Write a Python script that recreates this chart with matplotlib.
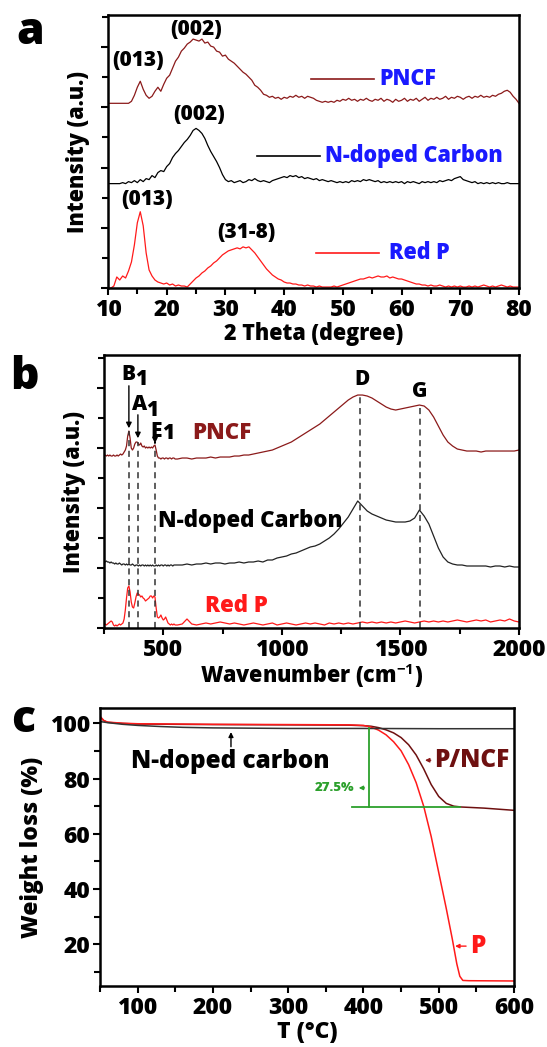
import numpy as np
import matplotlib
matplotlib.use("Agg")
import matplotlib.pyplot as plt
from matplotlib.ticker import MultipleLocator

plt.rcParams['font.family'] = ['Open Sans', 'DejaVu Sans']
plt.rcParams['font.weight'] = 800
plt.rcParams['axes.labelweight'] = 800
plt.rcParams['mathtext.fontset'] = 'custom'
plt.rcParams['mathtext.rm'] = 'Open Sans:bold'
plt.rcParams['mathtext.bf'] = 'Open Sans:bold'

DARKRED = '#8b1a1a'
RED = '#ff1a1a'
BLUE = '#1a1aff'
GREEN = '#2ca02c'

# ------------------------------------------------------------
# (a) XRD data, 2 theta from 10 to 80 in 0.5 steps
# ------------------------------------------------------------
xrd_theta = np.arange(10, 80.5, 0.5)

xrd_pncf = [
    184, 184, 184, 184, 184, 184, 184, 184, 186, 192,
    200, 206, 198, 192, 189, 191, 196, 200, 196, 203,
    209, 212, 219, 226, 230, 236, 239, 243, 245, 248,
    247, 246, 248, 244, 245, 241, 240, 236, 235, 231,
    232, 228, 226, 224, 221, 218, 215, 213, 210, 207,
    202, 200, 197, 193, 192, 190, 191, 189, 190, 188,
    190, 189, 191, 190, 192, 190, 191, 189, 191, 190,
    189, 187, 186, 185, 186, 185, 186, 185, 187, 186,
    188, 187, 189, 187, 188, 186, 188, 187, 189, 187,
    186, 188, 187, 189, 186, 188, 187, 185, 188, 186,
    187, 189, 186, 188, 187, 189, 186, 188, 190, 187,
    189, 188, 190, 188, 189, 191, 188, 190, 189, 191,
    190, 188, 190, 191, 189, 191, 190, 192, 190, 191,
    190, 192, 191, 193, 194, 196, 197, 195, 191, 188,
    184,
]

xrd_ncarbon = [
    104, 104, 104, 104, 104, 105, 104, 106, 105, 107,
    105, 108, 106, 109, 108, 112, 110, 115, 117, 116,
    121, 124, 130, 134, 137, 141, 145, 148, 152, 157,
    159, 157, 154, 149, 142, 136, 131, 126, 120, 113,
    108, 106, 107, 105, 106, 107, 105, 106, 108, 107,
    109, 107, 106, 107, 106, 105, 107, 108, 109, 110,
    111, 110, 112, 111, 112, 110, 111, 109, 110, 109,
    108, 109, 107, 108, 107, 106, 107, 106, 105, 106,
    105, 106, 105, 107, 106, 107, 106, 108, 107, 108,
    107, 106, 107, 105, 106, 105, 106, 105, 106, 105,
    106, 104, 106, 105, 106, 105, 104, 106, 105, 106,
    105, 106, 105, 107, 106, 107, 108, 107, 109, 110,
    111, 108, 107, 106, 105, 106, 104, 105, 104, 105,
    104, 105, 104, 105, 104, 104, 105, 104, 104, 104,
    104,
]

xrd_redp = [
    0, 0, 2, 11, 8, 12, 10, 17, 26, 43,
    65, 76, 62, 35, 18, 12, 8, 6, 5, 4,
    5, 3, 4, 2, 3, 2, 2, 1, 4, 7,
    10, 12, 15, 17, 20, 22, 25, 27, 30, 33,
    35, 37, 38, 39, 40, 39, 41, 40, 41, 38,
    35, 31, 27, 23, 19, 16, 13, 11, 9, 8,
    6, 5, 5, 4, 4, 3, 3, 2, 3, 2,
    2, 1, 2, 1, 1, 1, 1, 2, 1, 2,
    3, 4, 5, 6, 7, 8, 9, 9, 10, 11,
    10, 11, 12, 11, 11, 12, 10, 11, 10, 9,
    9, 8, 7, 6, 5, 4, 4, 3, 3, 2,
    3, 2, 2, 3, 2, 1, 2, 1, 2, 1,
    2, 1, 1, 2, 1, 2, 1, 2, 3, 2,
    1, 2, 1, 2, 3, 2, 1, 2, 1, 1,
    1,
]

# ------------------------------------------------------------
# (b) Raman data
# ------------------------------------------------------------
raman_x = np.concatenate([np.arange(250, 551, 5), np.arange(560, 2001, 20)])

raman_redp = [
    3, 4, 3, 4, 5, 6, 7, 6, 3, 2,
    3, 2, 3, 4, 3, 4, 5, 9, 18, 30,
    40, 42, 36, 26, 21, 20, 25, 31, 35, 34,
    33, 31, 32, 30, 29, 27, 28, 29, 30, 32,
    32, 30, 32, 31, 20, 11, 10, 11, 13, 10,
    8, 9, 11, 8, 5, 4, 3, 4, 3, 4,
    3,
    3, 4, 9, 4, 3, 4, 5, 4, 5, 6,
    5, 4, 5, 4, 3, 4, 5, 4, 3, 4,
    5, 3, 4, 5, 4, 3, 4, 5, 4, 5,
    4, 3, 5, 4, 5, 4, 5, 4, 5, 6,
    5, 6, 5, 6, 5, 6, 5, 6, 7, 6,
    5, 6, 7, 6, 7, 6, 7, 6, 7, 8,
    7, 6, 7, 8, 7, 8, 6, 7, 8, 7,
    9, 7, 6,
]

raman_ncarbon = [
    67, 66, 67, 66, 66, 65, 66, 65, 65, 64,
    65, 64, 64, 65, 64, 63, 64, 64, 63, 64,
    63, 64, 63, 63, 64, 63, 62, 63, 63, 62,
    63, 62, 63, 63, 62, 63, 62, 63, 62, 63,
    62, 63, 62, 62, 63, 62, 63, 62, 63, 63,
    62, 63, 63, 62, 63, 62, 63, 63, 62, 63,
    63,
    63, 63, 64, 63, 64, 64, 65, 64, 65, 65,
    64, 65, 65, 66, 65, 66, 66, 67, 66, 68,
    68, 70, 71, 72, 74, 75, 77, 79, 81, 82,
    84, 87, 90, 94, 99, 105, 111, 119, 127, 122,
    117, 114, 112, 110, 108, 107, 106, 106, 106, 107,
    110, 118, 112, 104, 92, 80, 71, 66, 64, 63,
    63, 62, 62, 62, 62, 62, 61, 62, 62, 61,
    62, 61, 61,
]

raman_pncf = [
    173, 173, 172, 173, 172, 173, 172, 172, 173, 172,
    172, 173, 172, 173, 174, 173, 174, 176, 178, 182,
    192, 197, 190, 180, 178, 180, 184, 186, 186, 184,
    183, 185, 182, 181, 182, 180, 181, 180, 181, 180,
    181, 180, 182, 183, 178, 172, 170, 170, 169, 170,
    170, 169, 170, 170, 169, 170, 170, 169, 170, 170,
    169,
    169, 170, 170, 169, 170, 170, 170, 171, 170, 171,
    171, 171, 172, 172, 173, 173, 174, 175, 176, 177,
    178, 180, 182, 184, 186, 189, 192, 195, 198, 201,
    204, 208, 212, 216, 220, 224, 228, 231, 233, 233,
    232, 230, 227, 224, 221, 219, 218, 219, 220, 221,
    222, 223, 222, 218, 211, 202, 193, 186, 182, 179,
    178, 177, 177, 177, 176, 177, 177, 177, 177, 177,
    177, 177, 178,
]

raman_modes = [355, 393, 465]
raman_bands = [1330, 1582]

# ------------------------------------------------------------
# (c) TGA data
# ------------------------------------------------------------
tga_t_nc = [50, 60, 80, 100, 130, 160, 200, 250, 300, 400, 500, 600]
tga_w_nc = [100.6, 100.2, 99.6, 99.2, 98.8, 98.5, 98.3, 98.2, 98.1, 98.1, 98.0, 98.0]

tga_t_p = [50, 55, 60, 80, 100, 150, 200, 300, 380, 400, 410, 420, 430, 440,
           450, 460, 470, 480, 490, 500, 510, 518, 524, 528, 532, 540, 600]
tga_w_p = [102.5, 101.0, 100.4, 100.0, 99.8, 99.7, 99.6, 99.5, 99.4, 99.2, 98.6,
           97.5, 95.8, 93.3, 90.0, 85.0, 78.5, 70.0, 59.0, 46.0, 33.0, 22.0,
           13.0, 8.5, 7.0, 6.9, 6.8]

tga_t_pncf = [50, 55, 60, 80, 100, 150, 200, 300, 380, 400, 410, 420, 430, 440,
              450, 460, 470, 480, 490, 500, 510, 520, 530, 560, 600]
tga_w_pncf = [102.3, 100.9, 100.3, 99.9, 99.7, 99.6, 99.5, 99.4, 99.3, 99.1, 98.9,
              98.4, 97.6, 96.5, 94.8, 92.2, 88.5, 83.5, 77.8, 73.5, 71.0, 70.0,
              69.7, 69.3, 68.5]

fig = plt.figure(figsize=(5.47, 10.47), dpi=100)

TICK_FS = 16.5
LABEL_FS = 15.5


def style_axes(ax):
    for sp in ax.spines.values():
        sp.set_linewidth(1.8)
    ax.tick_params(which='both', direction='out', width=1.5, labelsize=TICK_FS,
                   top=False, right=False, pad=2)
    ax.tick_params(which='major', length=5)
    ax.tick_params(which='minor', length=4)


# ---------------- panel a ----------------
ax = fig.add_axes([0.1974, 0.7249, 0.7514, 0.2608])
ax.plot(xrd_theta, xrd_pncf, color=DARKRED, lw=0.9)
ax.plot(xrd_theta, xrd_ncarbon, color='black', lw=0.9)
ax.plot(xrd_theta, xrd_redp, color=RED, lw=0.9)
ax.set_xlim(10, 80)
ax.set_ylim(0, 272)
ax.xaxis.set_major_locator(MultipleLocator(10))
ax.xaxis.set_minor_locator(MultipleLocator(5))
ax.yaxis.set_major_locator(MultipleLocator(60))
ax.yaxis.set_minor_locator(MultipleLocator(30))
ax.tick_params(axis='y', which='both', labelleft=False)
style_axes(ax)
ax.set_xlabel('2 Theta (degree)', fontsize=LABEL_FS, labelpad=0)
ax.set_ylabel('Intensity (a.u.)', fontsize=LABEL_FS, labelpad=8)
ax.text(15.2, 227, '(013)', fontsize=15, ha='center', va='center')
ax.text(25.0, 258, '(002)', fontsize=15, ha='center', va='center')
ax.text(25.6, 173, '(002)', fontsize=15, ha='center', va='center')
ax.text(16.7, 88, '(013)', fontsize=15, ha='center', va='center')
ax.text(33.6, 55, '(31-8)', fontsize=15, ha='center', va='center')
ax.plot([44.6, 55.3], [208, 208], color=DARKRED, lw=1.2)
ax.text(56.3, 208, 'PNCF', color=BLUE, fontsize=15.5, va='center')
ax.plot([35.4, 46.1], [132, 132], color='black', lw=1.2)
ax.text(47.0, 132, 'N-doped Carbon', color=BLUE, fontsize=15.5, va='center')
ax.plot([45.5, 56.2], [35, 35], color=RED, lw=1.2)
ax.text(57.8, 35, 'Red P', color=BLUE, fontsize=15.5, va='center')

# ---------------- panel b ----------------
ax = fig.add_axes([0.1901, 0.4002, 0.7587, 0.2607])
ax.plot(raman_x, raman_pncf, color=DARKRED, lw=0.9)
ax.plot(raman_x, raman_ncarbon, color='#222222', lw=0.9)
ax.plot(raman_x, raman_redp, color=RED, lw=0.9)
ax.set_xlim(250, 2000)
ax.set_ylim(0, 273)
ax.xaxis.set_major_locator(MultipleLocator(500))
ax.xaxis.set_minor_locator(MultipleLocator(250))
ax.yaxis.set_major_locator(MultipleLocator(60))
ax.yaxis.set_minor_locator(MultipleLocator(30))
ax.tick_params(axis='y', which='both', labelleft=False)
style_axes(ax)
ax.set_xlabel('Wavenumber (cm$^{-1}$)', fontsize=LABEL_FS, labelpad=0)
ax.set_ylabel('Intensity (a.u.)', fontsize=LABEL_FS, labelpad=8)
for xm, ytop in zip(raman_modes, [197, 186, 182]):
    ax.plot([xm, xm], [0, ytop], color='#333333', lw=1.1, ls=(0, (4, 3)))
for xb, ytop in zip(raman_bands, [232, 222]):
    ax.plot([xb, xb], [0, ytop], color='#333333', lw=1.1, ls=(0, (4, 3)))
arrow_kw = dict(arrowstyle='-|>', color='black', lw=1.0, mutation_scale=8)
ax.annotate('', xy=(355, 197), xytext=(355, 245), arrowprops=arrow_kw)
ax.annotate('', xy=(393, 187), xytext=(393, 216), arrowprops=arrow_kw)
ax.annotate('', xy=(465, 182), xytext=(465, 188), arrowprops=arrow_kw)
ax.text(353, 254, 'B', fontsize=15, ha='center', va='center')
ax.text(408, 249, '1', fontsize=15, ha='center', va='center')
ax.text(400, 224, 'A', fontsize=15, ha='center', va='center')
ax.text(452, 218, '1', fontsize=15, ha='center', va='center')
ax.text(470, 197, 'E', fontsize=15, ha='center', va='center')
ax.text(520, 195, '1', fontsize=15, ha='center', va='center')
ax.text(1338, 249, 'D', fontsize=15, ha='center', va='center')
ax.text(1580, 237, 'G', fontsize=15, ha='center', va='center')
ax.text(749, 195, 'PNCF', color=DARKRED, fontsize=16, ha='center', va='center')
ax.text(867, 107, 'N-doped Carbon', color='black', fontsize=16, ha='center', va='center')
ax.text(808, 22, 'Red P', color=RED, fontsize=16, ha='center', va='center')

# ---------------- panel c ----------------
ax = fig.add_axes([0.1828, 0.0583, 0.7569, 0.2655])
ax.plot(tga_t_pncf, tga_w_pncf, color='#6e1010', lw=1.1)
ax.plot(tga_t_p, tga_w_p, color=RED, lw=1.1)
ax.plot(tga_t_nc, tga_w_nc, color='#333333', lw=1.1)
ax.set_xlim(50, 600)
ax.set_ylim(5, 105.5)
ax.xaxis.set_major_locator(MultipleLocator(100))
ax.xaxis.set_minor_locator(MultipleLocator(50))
ax.yaxis.set_major_locator(MultipleLocator(20))
ax.yaxis.set_minor_locator(MultipleLocator(10))
style_axes(ax)
ax.set_xlabel('T (°C)', fontsize=LABEL_FS + 1, labelpad=0)
ax.set_ylabel('Weight loss (%)', fontsize=LABEL_FS + 1, labelpad=4)
ax.plot([407, 407], [98.1, 69.8], color=GREEN, lw=1.3)
ax.plot([385, 528], [69.8, 69.8], color=GREEN, lw=1.3)
ax.annotate('', xy=(390, 76.6), xytext=(405, 76.6),
            arrowprops=dict(arrowstyle='-|>', color=GREEN, lw=1.0, mutation_scale=6))
ax.text(388, 76.6, '27.5%', color=GREEN, fontsize=9.5, ha='right', va='center')
ax.annotate('', xy=(224, 97.8), xytext=(224, 90.5),
            arrowprops=dict(arrowstyle='-|>', color='black', lw=1.0, mutation_scale=7))
ax.text(223, 86, 'N-doped carbon', fontsize=17.5, ha='center', va='center')
ax.annotate('', xy=(478, 86.6), xytext=(493, 86.6),
            arrowprops=dict(arrowstyle='-|>', color=DARKRED, lw=1.0, mutation_scale=6))
ax.text(494, 86.6, 'P/NCF', color='#6e1010', fontsize=17.5, va='center')
ax.annotate('', xy=(518, 19.4), xytext=(540, 19.4),
            arrowprops=dict(arrowstyle='-|>', color=RED, lw=1.0, mutation_scale=6))
ax.text(542, 19.4, 'P', color=RED, fontsize=17.5, va='center')

# panel letters
fig.text(30 / 547, 1 - 33 / 1047, 'a', fontsize=32, ha='center', va='center')
fig.text(24 / 547, 1 - 378 / 1047, 'b', fontsize=32, ha='center', va='center')
fig.text(23 / 547, 1 - 720 / 1047, 'c', fontsize=32, ha='center', va='center')

fig.savefig('out.png', dpi=100)
